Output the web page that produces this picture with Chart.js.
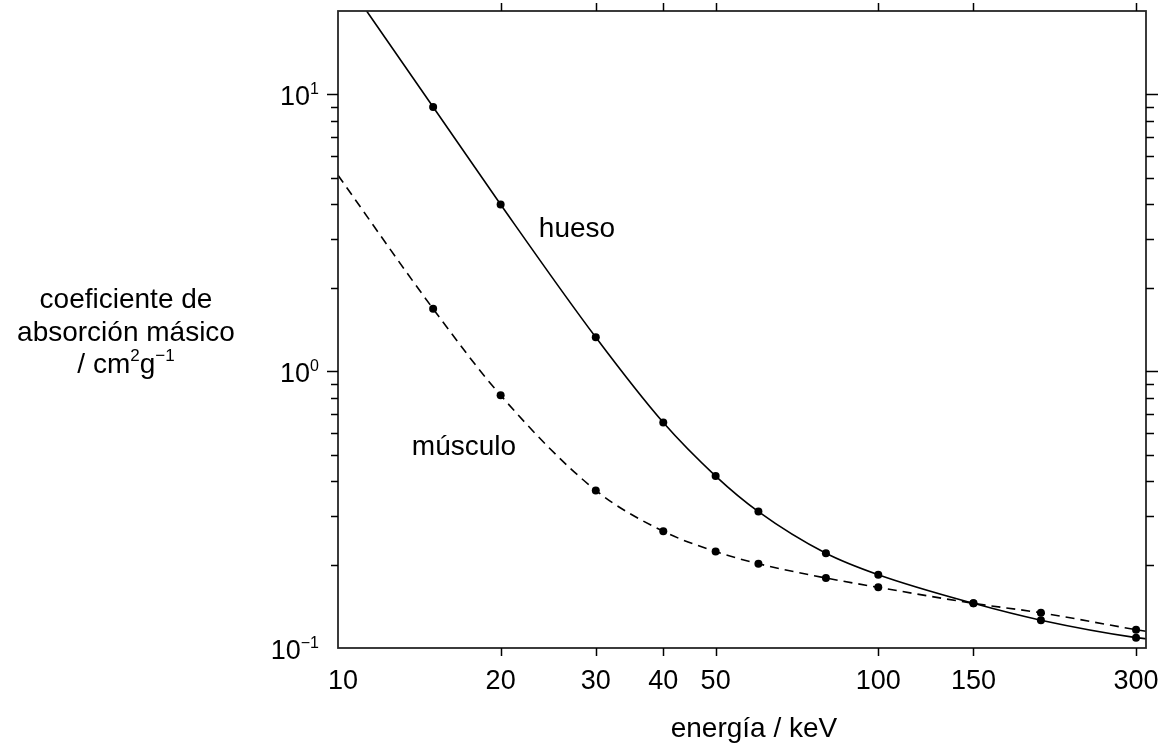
<!DOCTYPE html>
<html>
<head>
<meta charset="utf-8">
<script src="https://cdn.jsdelivr.net/npm/chart.js@4.4.1/dist/chart.umd.min.js"></script>
<style>
  html, body { margin: 0; padding: 0; background: #fff; }
  #wrap { width: 1169px; height: 747px; position: relative; }
</style>
</head>
<body>
<div id="wrap"><canvas id="chart"></canvas></div>
<script>
// measured energies (keV)
const energies = [15, 20, 30, 40, 50, 60, 80, 100, 150, 200, 300];
// mass absorption coefficient, cm2/g
const hueso = [9.0, 4.0, 1.325, 0.652, 0.418, 0.311, 0.220, 0.184, 0.145, 0.126, 0.109];
const musculo = [1.68, 0.818, 0.371, 0.264, 0.223, 0.2016, 0.179, 0.1656, 0.145, 0.134, 0.1165];

// where the fitted curves leave the frame
const huesoEnds = [[10, 28.2], [313, 0.108]];
const musculoEnds = [[10, 5.1], [313, 0.115]];

const xTicks = [10, 20, 30, 40, 50, 100, 150, 300];
const yMajor = [0.1, 1, 10];
const yMinor = [0.2, 0.3, 0.4, 0.5, 0.6, 0.7, 0.8, 0.9, 2, 3, 4, 5, 6, 7, 8, 9];
const yLabelExp = ['\u22121', '0', '1'];

const FONT = '"Liberation Sans", Arial, Helvetica, sans-serif';

function pts(xs, ys) {
  return xs.map((x, i) => ({ x: x, y: ys[i] }));
}
function curve(ends, xs, ys) {
  return [{ x: ends[0][0], y: ends[0][1] }, ...pts(xs, ys), { x: ends[1][0], y: ends[1][1] }];
}

// text with superscript parts, e.g. 10^1
function drawParts(ctx, parts, x, y, align, size) {
  const supSize = Math.round(size * 0.6);
  let total = 0;
  const widths = parts.map(p => {
    ctx.font = (p.sup ? supSize : size) + 'px ' + FONT;
    const w = ctx.measureText(p.t).width;
    total += w;
    return w;
  });
  let cx = align === 'right' ? x - total : align === 'center' ? x - total / 2 : x;
  parts.forEach((p, i) => {
    ctx.font = (p.sup ? supSize : size) + 'px ' + FONT;
    ctx.fillText(p.t, cx, p.sup ? y - size * 0.42 : y);
    cx += widths[i];
  });
}

const framePlugin = {
  id: 'frame',
  afterDraw(chart) {
    const { ctx, chartArea: a, scales } = chart;
    const xs = scales.x, ys = scales.y;
    ctx.save();

    // box
    ctx.strokeStyle = '#262626';
    ctx.lineWidth = 1.8;
    ctx.strokeRect(a.left, a.top, a.right - a.left, a.bottom - a.top);

    // ticks
    ctx.strokeStyle = '#000';
    ctx.lineWidth = 1.5;
    ctx.beginPath();
    xTicks.forEach(v => {
      if (v === xs.min) return;
      const px = Math.round(xs.getPixelForValue(v)) + 0.5;
      ctx.moveTo(px, a.bottom); ctx.lineTo(px, a.bottom + 8);
      ctx.moveTo(px, a.top); ctx.lineTo(px, a.top - 8);
    });
    yMajor.concat(yMinor).forEach(v => {
      if (v === ys.min) return;
      const major = yMajor.includes(v);
      const py = Math.round(ys.getPixelForValue(v)) + 0.5;
      ctx.moveTo(a.left, py); ctx.lineTo(a.left - (major ? 11 : 7), py);
      ctx.moveTo(a.right, py); ctx.lineTo(a.right + (major ? 12 : 8), py);
    });
    ctx.stroke();

    ctx.fillStyle = '#000';
    ctx.textBaseline = 'alphabetic';

    // x tick labels
    ctx.font = '27px ' + FONT;
    ctx.textAlign = 'center';
    xTicks.forEach(v => {
      const px = xs.getPixelForValue(v) + (v === xs.min ? 5 : 0);
      ctx.fillText(String(v), px, a.bottom + 41);
    });

    // y tick labels, 10^n
    ctx.textAlign = 'left';
    yMajor.forEach((v, i) => {
      const py = ys.getPixelForValue(v);
      drawParts(ctx, [{ t: '10' }, { t: yLabelExp[i], sup: true }], 319, py + 11, 'right', 27);
    });

    // axis titles
    ctx.font = '28px ' + FONT;
    ctx.textAlign = 'center';
    ctx.fillText('energ\u00eda / keV', 754, 737);
    ctx.fillText('coeficiente de', 126, 308);
    ctx.fillText('absorci\u00f3n m\u00e1sico', 126, 341);
    ctx.textAlign = 'left';
    drawParts(ctx, [{ t: '/ cm' }, { t: '2', sup: true }, { t: 'g' }, { t: '\u22121', sup: true }], 126, 373, 'center', 28);

    // series labels
    ctx.font = '28px ' + FONT;
    ctx.textAlign = 'center';
    ctx.fillText('hueso', 577, 237);
    ctx.fillText('m\u00fasculo', 464, 455);

    ctx.restore();
  }
};

new Chart(document.getElementById('chart'), {
  type: 'scatter',
  data: {
    datasets: [
      {
        label: 'hueso',
        data: curve(huesoEnds, energies, hueso),
        showLine: true,
        borderColor: '#000',
        borderWidth: 1.6,
        pointRadius: 0,
        cubicInterpolationMode: 'monotone'
      },
      {
        label: 'músculo',
        data: curve(musculoEnds, energies, musculo),
        showLine: true,
        borderColor: '#000',
        borderWidth: 1.6,
        borderDash: [9, 6],
        pointRadius: 0,
        cubicInterpolationMode: 'monotone'
      },
      {
        label: 'hueso (puntos)',
        data: pts(energies, hueso),
        pointRadius: 4,
        pointBackgroundColor: '#000',
        pointBorderWidth: 0
      },
      {
        label: 'músculo (puntos)',
        data: pts(energies, musculo),
        pointRadius: 4,
        pointBackgroundColor: '#000',
        pointBorderWidth: 0
      }
    ]
  },
  options: {
    responsive: true,
    maintainAspectRatio: false,
    animation: false,
    layout: { padding: { left: 338, right: 23, top: 11, bottom: 99 } },
    plugins: { legend: { display: false }, tooltip: { enabled: false } },
    scales: {
      x: { type: 'logarithmic', min: 10, max: 313, display: false },
      y: { type: 'logarithmic', min: 0.1, max: 20, display: false }
    }
  },
  plugins: [framePlugin]
});
</script>
</body>
</html>
